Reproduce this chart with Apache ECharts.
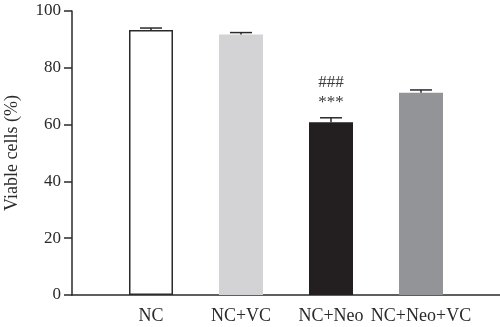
<!DOCTYPE html>
<html>
<head>
<meta charset="utf-8">
<script src="https://cdn.jsdelivr.net/npm/echarts@6/dist/echarts.min.js"></script>
<style>html,body{margin:0;padding:0;background:#fff}#c{width:500px;height:327px}</style>
</head>
<body>
<div id="c"></div>
<script>
const categories = ['NC', 'NC+VC', 'NC+Neo', 'NC+Neo+VC'];
const viable = [93.3, 91.7, 60.8, 71.2];
const errorUp = [0.7, 0.7, 1.6, 1.0];
const annotations = ['', '', '###\n***', ''];
const yTicks = [0, 20, 40, 60, 80, 100];

const barColors = ['#ffffff', '#d3d3d5', '#231f20', '#939497'];
const font = '"Liberation Serif", "Times New Roman", serif';
const ink = '#2a2a2a';

const chart = echarts.init(document.getElementById('c'), null, {renderer: 'canvas'});
chart.setOption({
  animation: false,
  backgroundColor: '#fff',
  grid: [
    {left: 72, right: 0, top: 11, bottom: 32, containLabel: false, outerBoundsMode: 'none'},
    {left: 106, right: 34, top: 11, bottom: 32, containLabel: false, outerBoundsMode: 'none'}
  ],
  xAxis: [
    {gridIndex: 0, type: 'value', min: 0, max: 1, axisLine: {show: true, lineStyle: {color: ink, width: 1.5}},
     axisTick: {show: false}, axisLabel: {show: false}, splitLine: {show: false}},
    {gridIndex: 1, type: 'category', data: categories, axisLine: {show: false}, axisTick: {show: false},
     axisLabel: {interval: 0, color: ink, fontFamily: font, fontSize: 18, margin: 12}}
  ],
  yAxis: [
    {gridIndex: 0, type: 'value', min: yTicks[0], max: yTicks[yTicks.length - 1], interval: 20,
     name: 'Viable cells (%)', nameLocation: 'middle', nameGap: 51,
     nameTextStyle: {color: ink, fontFamily: font, fontSize: 18},
     axisLine: {show: true, lineStyle: {color: ink, width: 1.5}},
     axisTick: {show: true, length: 8, lineStyle: {color: ink, width: 1.5}},
     axisLabel: {color: ink, fontFamily: font, fontSize: 17, margin: 11},
     splitLine: {show: false}},
    {gridIndex: 1, type: 'value', min: yTicks[0], max: yTicks[yTicks.length - 1], show: false}
  ],
  series: [
    {
      type: 'bar', xAxisIndex: 1, yAxisIndex: 1, barWidth: 44,
      data: viable.map((v, i) => ({
        value: v,
        itemStyle: {color: barColors[i], borderColor: i === 0 ? ink : barColors[i], borderWidth: i === 0 ? 1.5 : 0}
      })),
      label: {
        show: true, position: 'top', distance: 10,
        formatter: p => annotations[p.dataIndex],
        color: '#3a3a3a', fontFamily: font, fontSize: 17, lineHeight: 20
      },
      z: 2
    },
    {
      type: 'custom', xAxisIndex: 1, yAxisIndex: 1,
      data: viable.map((v, i) => [i, v, v + errorUp[i]]),
      renderItem: (params, api) => {
        const base = api.coord([api.value(0), api.value(1)]);
        const top = api.coord([api.value(0), api.value(2)]);
        const hw = 11;
        const style = {stroke: ink, lineWidth: 1.5};
        return {type: 'group', children: [
          {type: 'line', shape: {x1: base[0], y1: base[1], x2: top[0], y2: top[1]}, style},
          {type: 'line', shape: {x1: top[0] - hw, y1: top[1], x2: top[0] + hw, y2: top[1]}, style}
        ]};
      },
      z: 3
    }
  ]
});
</script>
</body>
</html>
